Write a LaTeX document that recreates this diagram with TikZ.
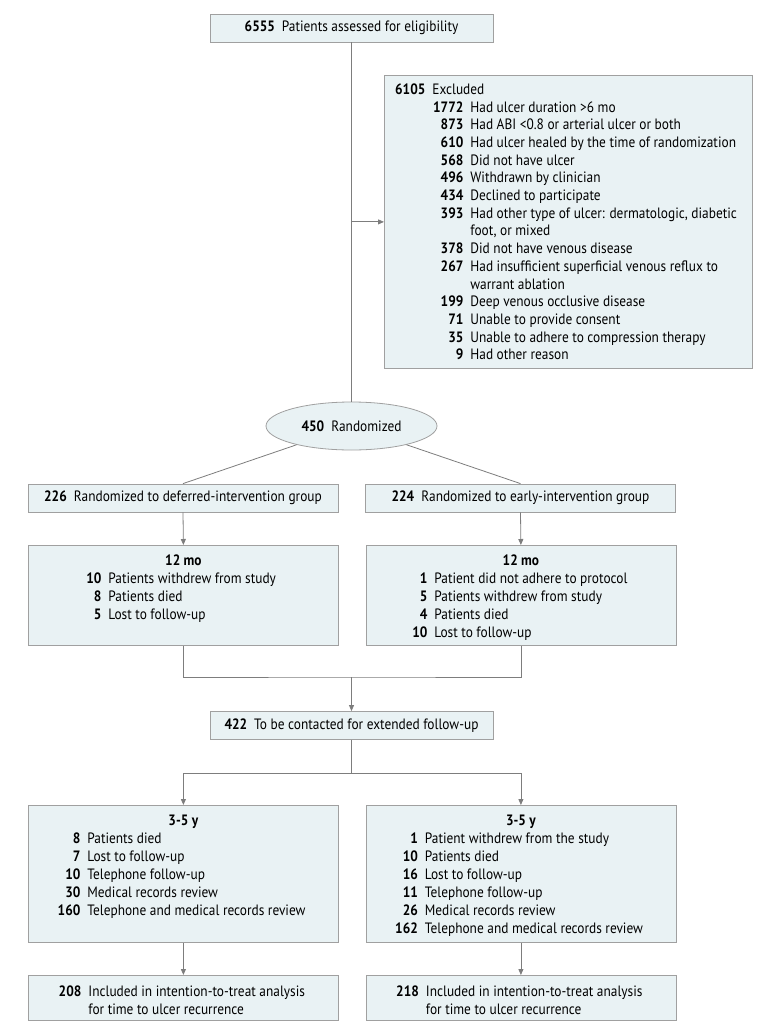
\documentclass[tikz,border=0pt]{standalone}
\usepackage{fontspec}
\setmainfont{PT Sans}[FakeStretch=0.89]
\usepackage{tikz}
\usetikzlibrary{shapes.geometric, arrows.meta, positioning, calc}
\definecolor{boxfill}{RGB}{233, 242, 244}
\definecolor{boxline}{RGB}{160, 160, 160}
\definecolor{linkgray}{RGB}{125, 125, 125}
\newlength{\numw}
\newcommand{\entry}[2]{\makebox[\numw][r]{\textbf{#1}}\hspace{7pt}#2\par}
\newcommand{\boxhead}[1]{\centerline{\rule{0pt}{20pt}\textbf{#1}}}

\begin{document}
\begin{tikzpicture}[x=1pt, y=-1pt, font=\fontsize{15}{18}\selectfont,
    box/.style={rectangle, draw=boxline, fill=boxfill, line width=0.8pt, inner sep=0pt},
    link/.style={draw=linkgray, line width=0.8pt},
    arrow/.style={link, -{Triangle[length=6pt, width=5pt]}}]
    \useasboundingbox (0,0) rectangle (780,1032);
    % enrollment
    \node[box, minimum width=283pt, minimum height=28pt] (assessed) at (351.5,28) {\textbf{6555}\hspace{7pt}Patients assessed for eligibility};
    \node[box, anchor=north west] (excluded) at (384,75) {\begin{minipage}[t][293pt][t]{368pt}\raggedright\baselineskip=17.7pt\setlength{\numw}{79pt}
        \makebox[41pt][r]{\rule{0pt}{19pt}\textbf{6105}}\hspace{7pt}Excluded\par
        \entry{1772}{Had ulcer duration >6 mo}
        \entry{873}{Had ABI <0.8 or arterial ulcer or both}
        \entry{610}{Had ulcer healed by the time of randomization}
        \entry{568}{Did not have ulcer}
        \entry{496}{Withdrawn by clinician}
        \entry{434}{Declined to participate}
        \entry{393}{Had other type of ulcer: dermatologic, diabetic}
        \entry{}{foot, or mixed}
        \entry{378}{Did not have venous disease}
        \entry{267}{Had insufficient superficial venous reflux to}
        \entry{}{warrant ablation}
        \entry{199}{Deep venous occlusive disease}
        \entry{71}{Unable to provide consent}
        \entry{35}{Unable to adhere to compression therapy}
        \entry{9}{Had other reason}
    \end{minipage}};
    \node[ellipse, draw=boxline, fill=boxfill, line width=0.8pt, inner sep=0pt, minimum width=171pt, minimum height=48pt] (rand) at (351.5,426) {\textbf{450}\hspace{7pt}Randomized};
    % allocation
    \node[box, minimum width=310pt, minimum height=28pt] (deferred) at (183,498) {\textbf{226}\hspace{7pt}Randomized to deferred-intervention group};
    \node[box, minimum width=310pt, minimum height=28pt] (early) at (520.5,498) {\textbf{224}\hspace{7pt}Randomized to early-intervention group};
    % 12 mo follow-up
    \node[box, anchor=north west] (deferred12) at (28,545) {\begin{minipage}[t][100pt][t]{310pt}\raggedright\setlength{\numw}{73pt}
        \boxhead{12 mo}
        \entry{10}{Patients withdrew from study}
        \entry{8}{Patients died}
        \entry{5}{Lost to follow-up}
    \end{minipage}};
    \node[box, anchor=north west] (early12) at (365.5,545) {\begin{minipage}[t][100pt][t]{310pt}\raggedright\setlength{\numw}{61.5pt}
        \boxhead{12 mo}
        \entry{1}{Patient did not adhere to protocol}
        \entry{5}{Patients withdrew from study}
        \entry{4}{Patients died}
        \entry{10}{Lost to follow-up}
    \end{minipage}};
    \coordinate (merge) at (351.5,677);
    \node[box, minimum width=283pt, minimum height=28pt] (contacted) at (351.5,725.5) {\textbf{422}\hspace{7pt}To be contacted for extended follow-up};
    \coordinate (split) at (351.5,773);
    % extended follow-up
    \node[box, anchor=north west] (deferred35) at (28,805) {\begin{minipage}[t][137pt][t]{310pt}\raggedright\setlength{\numw}{52pt}
        \boxhead{3-5 y}
        \entry{8}{Patients died}
        \entry{7}{Lost to follow-up}
        \entry{10}{Telephone follow-up}
        \entry{30}{Medical records review}
        \entry{160}{Telephone and medical records review}
    \end{minipage}};
    \node[box, anchor=north west] (early35) at (365.5,805) {\begin{minipage}[t][137pt][t]{310pt}\raggedright\setlength{\numw}{52pt}
        \boxhead{3-5 y}
        \entry{1}{Patient withdrew from the study}
        \entry{10}{Patients died}
        \entry{16}{Lost to follow-up}
        \entry{11}{Telephone follow-up}
        \entry{26}{Medical records review}
        \entry{162}{Telephone and medical records review}
    \end{minipage}};
    % analysis
    \node[box, anchor=north west] (deferreditt) at (28,975) {\begin{minipage}[t][45pt][t]{310pt}\raggedright\setlength{\numw}{53pt}
        \entry{\rule{0pt}{21pt}208}{Included in intention-to-treat analysis}
        \entry{}{for time to ulcer recurrence}
    \end{minipage}};
    \node[box, anchor=north west] (earlyitt) at (365.5,975) {\begin{minipage}[t][45pt][t]{310pt}\raggedright\setlength{\numw}{53pt}
        \entry{\rule{0pt}{21pt}218}{Included in intention-to-treat analysis}
        \entry{}{for time to ulcer recurrence}
    \end{minipage}};
    % connectors
    \draw[link] (assessed.south) -- (rand.north);
    \draw[arrow] (assessed.south |- excluded.west) -- (excluded.west);
    \draw[link] (rand) -- (deferred.north);
    \draw[link] (rand) -- (early.north);
    \draw[arrow] (deferred.south) -- (deferred12.north);
    \draw[arrow] (early.south) -- (early12.north);
    \draw[link] (deferred12.south) |- (merge) -| (early12.south);
    \draw[arrow] (merge) -- (contacted.north);
    \draw[link] (contacted.south) -- (split);
    \draw[arrow] (split) -| (deferred35.north);
    \draw[arrow] (split) -| (early35.north);
    \draw[arrow] (deferred35.south) -- (deferreditt.north);
    \draw[arrow] (early35.south) -- (earlyitt.north);
\end{tikzpicture}
\end{document}
